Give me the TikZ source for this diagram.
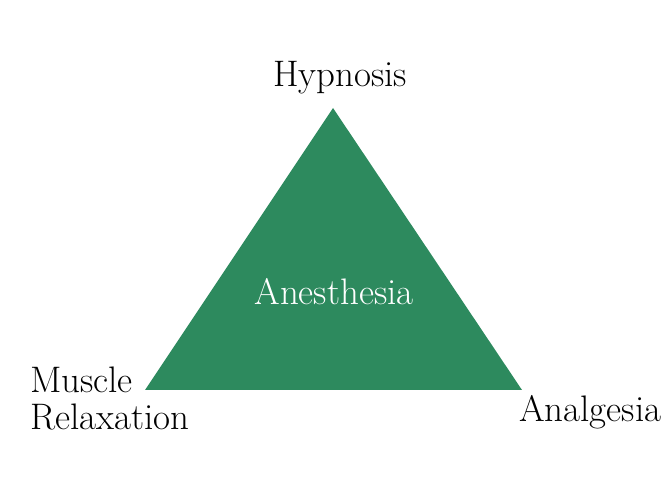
\documentclass[tikz,border=0pt]{standalone}
\usetikzlibrary{positioning}
\definecolor{leafgreen}{HTML}{2D8A5E}

\begin{document}
\begin{tikzpicture}[x=0.03cm,y=0.03cm,
  lbl/.style={font=\fontsize{31.5}{37}\selectfont,inner sep=0pt}]
\useasboundingbox (0,0) rectangle (667,500);
\coordinate (top) at (333,392);
\coordinate (left) at (145,110);
\coordinate (right) at (522,110);
\fill[leafgreen] (top)--(left)--(right)--cycle;
\node[lbl,anchor=base] (hyp) at (340,413) {Hypnosis};
\node[lbl,anchor=base,white] (anes) at (334,195) {Anesthesia};
\node[lbl,anchor=base west] (mus) at (30,107) {Muscle};
\node[lbl,anchor=base west] (rel) at (30,70) {Relaxation};
\node[lbl,anchor=base west] (ana) at (519,78) {Analgesia};
\end{tikzpicture}
\end{document}
